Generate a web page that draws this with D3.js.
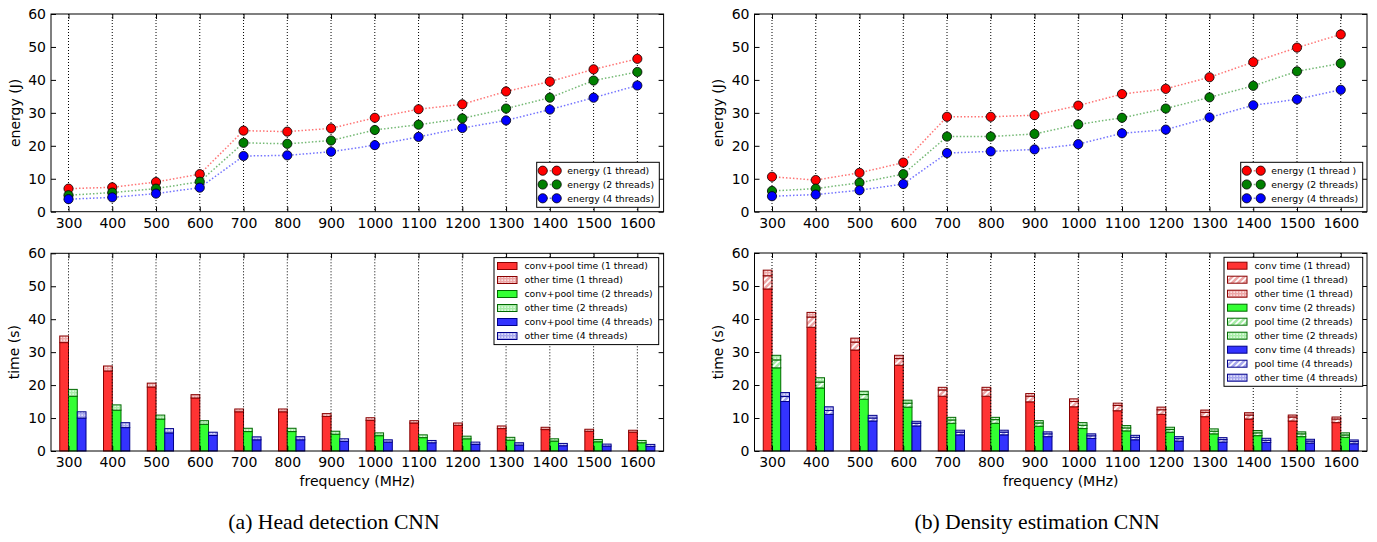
<!DOCTYPE html>
<html><head><meta charset="utf-8">
<script src="https://cdn.jsdelivr.net/npm/d3@7"></script>
<style>body{margin:0;background:#fff;}svg{display:block;}</style>
</head><body>
<script>
// ---------- DATA ----------
const freqs = [300,400,500,600,700,800,900,1000,1100,1200,1300,1400,1500,1600];
const yTicks = [0,10,20,30,40,50,60];

// (a) Head detection CNN - energy (J)
const energyA1 = [7.0,7.4,9.0,11.4,24.6,24.3,25.3,28.5,31.1,32.6,36.5,39.5,43.2,46.4];
const energyA2 = [5.0,5.8,7.0,9.1,20.9,20.6,21.6,24.8,26.4,28.3,31.3,34.6,39.8,42.4];
const energyA4 = [3.8,4.35,5.5,7.3,16.9,17.1,18.2,20.2,22.7,25.4,27.7,31.0,34.6,38.3];
// (b) Density estimation CNN - energy (J)
const energyB1 = [10.6,9.6,11.8,14.9,28.8,28.8,29.3,32.2,35.7,37.3,40.8,45.4,49.8,53.8];
const energyB2 = [6.3,7.0,8.8,11.4,22.8,22.8,23.6,26.5,28.5,31.3,34.7,38.2,42.6,45.0];
const energyB4 = [4.7,5.2,6.5,8.4,17.8,18.3,18.9,20.5,23.8,24.9,28.6,32.3,34.1,37.0];

// (a) time (s): conv+pool and other
const convPoolA1 = [32.9,24.3,19.4,16.1,11.9,11.9,10.5,9.3,8.5,7.8,6.8,6.5,6.0,5.7];
const otherA1    = [2.0,1.5,1.2,1.0,0.85,0.85,0.85,0.8,0.7,0.7,0.8,0.7,0.6,0.6];
const convPoolA2 = [16.6,12.4,9.7,8.1,5.9,5.9,5.1,4.65,4.05,3.7,3.3,3.0,2.8,2.5];
const otherA2    = [2.1,1.6,1.2,1.1,1.0,1.0,0.9,0.85,0.85,0.8,0.85,0.7,0.7,0.7];
const convPoolA4 = [10.0,7.1,5.5,4.7,3.4,3.4,2.9,2.7,2.5,2.0,1.8,1.6,1.5,1.4];
const otherA4    = [1.9,1.5,1.3,1.0,0.9,0.95,0.8,0.7,0.7,0.7,0.7,0.7,0.6,0.6];

// (b) time (s): conv, pool, other
const convB1  = [49.1,37.5,30.6,26.0,16.6,16.6,14.9,13.4,12.2,11.1,10.4,9.7,9.1,8.6];
const poolB1  = [4.0,3.1,2.4,2.0,1.9,1.9,1.7,1.6,1.6,1.4,1.3,1.2,1.2,1.1];
const otherB1 = [1.7,1.4,1.2,1.0,0.8,0.8,0.8,0.8,0.7,0.8,0.7,0.7,0.6,0.6];
const convB2  = [25.2,19.1,15.7,13.3,8.4,8.4,7.5,6.8,6.1,5.7,5.2,4.65,4.35,4.15];
const poolB2  = [2.4,1.8,1.4,1.2,1.0,1.1,1.0,1.0,0.9,0.8,0.8,0.85,0.85,0.7];
const otherB2 = [1.4,1.3,1.0,0.9,0.8,0.7,0.7,0.8,0.7,0.7,0.7,0.7,0.6,0.65];
const convB4  = [15.0,11.1,9.1,7.6,4.9,4.9,4.35,3.8,3.4,3.0,2.7,2.6,2.4,2.2];
const poolB4  = [1.5,1.2,0.9,0.8,0.8,0.8,0.85,0.8,0.75,0.75,0.75,0.65,0.6,0.65];
const otherB4 = [1.2,1.1,0.8,0.6,0.6,0.6,0.6,0.6,0.6,0.6,0.6,0.6,0.55,0.5];

const energyLabelsA = ["energy (1 thread)","energy (2 threads)","energy (4 threads)"];
const energyLabelsB = ["energy (1 thread )","energy (2 threads)","energy (4 threads)"];
const timeLabelsA = ["conv+pool time (1 thread)","other time (1 thread)","conv+pool time (2 threads)","other time (2 threads)","conv+pool time (4 threads)","other time (4 threads)"];
const timeLabelsB = ["conv time (1 thread)","pool time (1 thread)","other time (1 thread)","conv time (2 threads)","pool time (2 threads)","other time (2 threads)","conv time (4 threads)","pool time (4 threads)","other time (4 threads)"];
const captions = ["(a) Head detection CNN","(b) Density estimation CNN"];

// ---------- STYLE ----------
const FONT = "DejaVu Sans";
const markerColors = ["#ff0000","#008000","#0000ff"];
const barColors = ["#ff3333","#33ff33","#3333ff"];
const lightColors = ["#eda6a6","#a6eda6","#a6a6ed"];
const edgeColors = ["#8a0000","#006a00","#00008a"];

const svg = d3.select("body").append("svg").attr("width",1377).attr("height",542)
  .style("font-family",FONT);
svg.append("rect").attr("width",1377).attr("height",542).attr("fill","#fff");

const defs = svg.append("defs");
["r","g","b"].forEach((k,i)=>{
  const ph = defs.append("pattern").attr("id","hatch-"+k).attr("patternUnits","userSpaceOnUse")
    .attr("width",6).attr("height",6);
  ph.append("rect").attr("width",6).attr("height",6).attr("fill",lightColors[i]);
  ph.append("path").attr("d","M-1,7 L7,-1 M-4,4 L4,-4 M2,10 L10,2").attr("stroke","#fff").attr("stroke-width",1.6);
  const pd = defs.append("pattern").attr("id","dots-"+k).attr("patternUnits","userSpaceOnUse")
    .attr("width",3).attr("height",3);
  pd.append("rect").attr("width",3).attr("height",3).attr("fill",lightColors[i]);
  pd.append("rect").attr("x",0.5).attr("y",0.5).attr("width",1.3).attr("height",1.3).attr("fill","#fff");
});

function makePanel(x0,y0,x1,y1){
  return {
    x: d3.scaleLinear().domain([-0.4,13.6]).range([x0,x1]),
    y: d3.scaleLinear().domain([0,60]).range([y1,y0]),
    x0,y0,x1,y1
  };
}

function drawGrid(p){
  svg.append("g").selectAll("line").data(freqs).join("line")
    .attr("x1",(d,i)=>p.x(i)).attr("x2",(d,i)=>p.x(i))
    .attr("y1",p.y0).attr("y2",p.y1)
    .attr("stroke","#000").attr("stroke-width",1).attr("stroke-dasharray","1,2");
}

function drawAxes(p, ylabel, labelX, showXTitle){
  const g = svg.append("g");
  const bx = d3.axisBottom(p.x).tickValues(d3.range(freqs.length)).tickFormat(i=>freqs[i])
    .tickSizeInner(-5).tickSizeOuter(0).tickPadding(6);
  const gb = g.append("g").attr("transform",`translate(0,${p.y1})`).call(bx);
  const tx = d3.axisTop(p.x).tickValues(d3.range(freqs.length)).tickFormat("")
    .tickSizeInner(-5).tickSizeOuter(0);
  const gt = g.append("g").attr("transform",`translate(0,${p.y0})`).call(tx);
  const ly = d3.axisLeft(p.y).tickValues(yTicks).tickFormat(d3.format("d"))
    .tickSizeInner(-5).tickSizeOuter(0).tickPadding(5);
  const gl = g.append("g").attr("transform",`translate(${p.x0},0)`).call(ly);
  const ry = d3.axisRight(p.y).tickValues(yTicks).tickFormat("")
    .tickSizeInner(-5).tickSizeOuter(0);
  const gr = g.append("g").attr("transform",`translate(${p.x1},0)`).call(ry);
  [gb,gt,gl,gr].forEach(a=>{
    a.select(".domain").remove();
    a.selectAll("text").attr("font-family",FONT).attr("font-size",14).attr("fill","#000");
    a.selectAll("line").attr("stroke","#000");
  });
  g.append("rect").attr("x",p.x0).attr("y",p.y0).attr("width",p.x1-p.x0).attr("height",p.y1-p.y0)
    .attr("fill","none").attr("stroke","#000").attr("stroke-width",1);
  g.append("text").attr("transform",`translate(${labelX},${(p.y0+p.y1)/2}) rotate(-90)`)
    .attr("text-anchor","middle").attr("font-size",14).text(ylabel);
  if(showXTitle){
    g.append("text").attr("x",(p.x0+p.x1)/2).attr("y",p.y1+35).attr("text-anchor","middle")
      .attr("font-size",14).text("frequency (MHz)");
  }
}

function drawEnergy(p, series, labels, legX){
  drawGrid(p);
  const line = d3.line().x((d,i)=>p.x(i)).y(d=>p.y(d));
  series.forEach((s,k)=>{
    svg.append("path").datum(s).attr("d",line).attr("fill","none")
      .attr("stroke",markerColors[k]).attr("stroke-width",1.5).attr("stroke-opacity",0.55)
      .attr("stroke-dasharray","1.5,2");
  });
  series.forEach((s,k)=>{
    svg.append("g").selectAll("circle").data(s).join("circle")
      .attr("cx",(d,i)=>p.x(i)).attr("cy",d=>p.y(d)).attr("r",4.6)
      .attr("fill",markerColors[k]).attr("stroke","#000").attr("stroke-width",0.8);
  });
  drawAxes(p,"energy (J)",p.x0-31.5,false);
  const lw = p.x1 - legX - 4.3, lh = 45, ly0 = p.y1 - 4.4 - lh;
  const lg = svg.append("g");
  lg.append("rect").attr("x",legX).attr("y",ly0).attr("width",lw).attr("height",lh)
    .attr("fill","#fff").attr("stroke","#000").attr("stroke-width",1);
  labels.forEach((t,k)=>{
    const cy = ly0 + 8.4 + k*13.8;
    lg.append("line").attr("x1",legX+6).attr("x2",legX+20).attr("y1",cy).attr("y2",cy)
      .attr("stroke",markerColors[k]).attr("stroke-width",1.5).attr("stroke-opacity",0.55).attr("stroke-dasharray","1.5,2");
    [6,20].forEach(dx=>lg.append("circle").attr("cx",legX+dx).attr("cy",cy).attr("r",4.6)
      .attr("fill",markerColors[k]).attr("stroke","#000").attr("stroke-width",0.8));
    lg.append("text").attr("x",legX+30.6).attr("y",cy+3.3).attr("font-size",9.3).text(t);
  });
}

function drawTimes(p, groups, labels, legX, legW){
  groups.forEach((grp,k)=>{
    const off = -0.2 + k*0.2;
    const bw = p.x(0.2)-p.x(0);
    const cum = freqs.map(()=>0);
    grp.forEach(seg=>{
      svg.append("g").selectAll("rect").data(seg.values).join("rect")
        .attr("x",(d,i)=>p.x(i+off)).attr("width",bw)
        .attr("y",(d,i)=>p.y(cum[i]+d)).attr("height",(d,i)=>p.y(cum[i])-p.y(cum[i]+d))
        .attr("fill",seg.fill).attr("stroke",edgeColors[k]).attr("stroke-width",1);
      seg.values.forEach((d,i)=>cum[i]+=d);
    });
  });
  drawGrid(p);
  drawAxes(p,"time (s)",p.x0-32,true);
  const fills = [];
  groups.forEach((grp,k)=>grp.forEach(seg=>fills.push({fill:seg.fill,k})));
  const n = labels.length;
  const lh = 14*n + 3, ly0 = p.y0 + 4.3;
  const lg = svg.append("g");
  lg.append("rect").attr("x",legX).attr("y",ly0).attr("width",legW).attr("height",lh)
    .attr("fill","#fff").attr("stroke","#000").attr("stroke-width",1);
  labels.forEach((t,j)=>{
    const cy = ly0 + 8.4 + j*14;
    lg.append("rect").attr("x",legX+3.5).attr("y",cy-3.5).attr("width",19.5).attr("height",7)
      .attr("fill",fills[j].fill).attr("stroke",edgeColors[fills[j].k]).attr("stroke-width",1);
    lg.append("text").attr("x",legX+30.5).attr("y",cy+3.3).attr("font-size",9.3).text(t);
  });
}

// ---------- PANELS ----------
const pA1 = makePanel(51,14,663.6,211.7);
const pA2 = makePanel(51,253.3,663.6,451);
const pB1 = makePanel(754.5,14,1367,211.7);
const pB2 = makePanel(754.5,253,1367,451);

drawEnergy(pA1,[energyA1,energyA2,energyA4],energyLabelsA,536.7);
drawEnergy(pB1,[energyB1,energyB2,energyB4],energyLabelsB,1240.7);

drawTimes(pA2,[
  [{values:convPoolA1,fill:barColors[0]},{values:otherA1,fill:"url(#dots-r)"}],
  [{values:convPoolA2,fill:barColors[1]},{values:otherA2,fill:"url(#dots-g)"}],
  [{values:convPoolA4,fill:barColors[2]},{values:otherA4,fill:"url(#dots-b)"}]
],timeLabelsA,494,164.7);

drawTimes(pB2,[
  [{values:convB1,fill:barColors[0]},{values:poolB1,fill:"url(#hatch-r)"},{values:otherB1,fill:"url(#dots-r)"}],
  [{values:convB2,fill:barColors[1]},{values:poolB2,fill:"url(#hatch-g)"},{values:otherB2,fill:"url(#dots-g)"}],
  [{values:convB4,fill:barColors[2]},{values:poolB4,fill:"url(#hatch-b)"},{values:otherB4,fill:"url(#dots-b)"}]
],timeLabelsB,1224,138.7);

// captions
svg.append("text").attr("x",334).attr("y",529).attr("text-anchor","middle")
  .attr("font-family","Liberation Serif").attr("font-size",21.7).text(captions[0]);
svg.append("text").attr("x",1037).attr("y",529).attr("text-anchor","middle")
  .attr("font-family","Liberation Serif").attr("font-size",21.7).text(captions[1]);
</script>
</body></html>
